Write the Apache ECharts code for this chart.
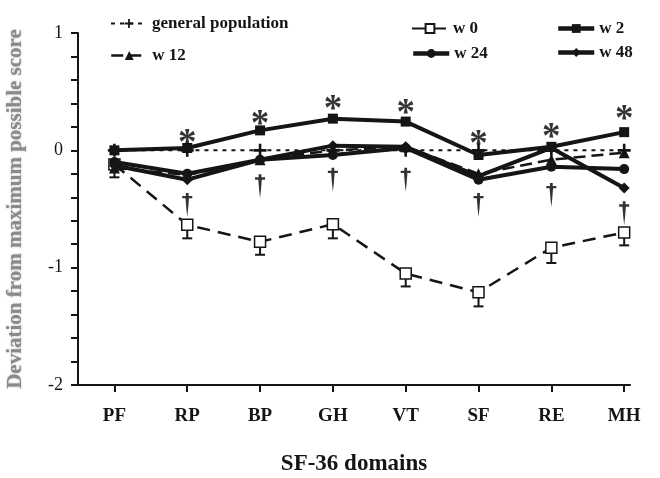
<!DOCTYPE html>
<html><head><meta charset="utf-8">
<script src="https://cdn.jsdelivr.net/npm/echarts@6/dist/echarts.min.js"></script>
<style>html,body{margin:0;padding:0;background:#fff}#c{width:660px;height:478px}</style>
</head><body><div id="c"></div>
<script>
const domains = ['PF','RP','BP','GH','VT','SF','RE','MH'];
const genPop = [0, 0, 0, 0, 0, 0, 0, 0];
const w0 = [-0.12, -0.635, -0.78, -0.63, -1.05, -1.21, -0.83, -0.70];
const w0Lower = [-0.23, -0.75, -0.89, -0.75, -1.16, -1.33, -0.96, -0.81];
const w2 = [0.0, 0.02, 0.17, 0.27, 0.245, -0.04, 0.03, 0.155];
const w12 = [-0.15, -0.21, -0.08, 0.0, 0.03, -0.2, -0.08, -0.02];
const w24 = [-0.1, -0.2, -0.08, -0.04, 0.02, -0.25, -0.14, -0.16];
const w48 = [-0.13, -0.25, -0.08, 0.04, 0.03, -0.22, 0.02, -0.32];
const starY = [null, 0.13, 0.29, 0.415, 0.385, 0.12, 0.175, 0.33];
const daggerY = [null, -0.465, -0.307, -0.25, -0.25, -0.465, -0.38, -0.537];

const serif = 'Liberation Serif';
const ink = '#151515';
const pair = arr => arr.map((v, i) => v === null ? null : [i, v]).filter(d => d);
const plusPath = 'path://M4,0h2v4h4v2h-4v4h-2v-4h-4v-2h4z';
const daggerPath = 'path://M3.9,0H6.1V3H9V5.3H6.4L5.7,16L5,24L4.3,16L3.6,5.3H1V3H3.9Z';

const legTxt = {fontFamily: serif, fontWeight: 'bold', fontSize: 17, color: ink};
function leg(name, left, top, lw) {
  return {data: [{name: name, lineStyle: {width: lw}}], left: left, top: top, itemWidth: 36, itemHeight: 11, itemGap: 5,
    textStyle: legTxt, selectedMode: false, padding: 0};
}

const chart = echarts.init(document.getElementById('c'), null, {renderer: 'canvas'});
chart.setOption({
  animation: false,
  backgroundColor: '#fff',
  legend: [
    leg('general population', 110, 15, 2),
    leg('w 12', 110, 47, 2.5),
    leg('w 0', 411, 20, 2),
    leg('w 24', 411, 45, 4.5),
    leg('w 2', 556, 20, 4.5),
    leg('w 48', 556, 44, 4.5)
  ],
  grid: {left: 78, right: 30, top: 33, bottom: 93, containLabel: false, outerBoundsMode: 'none'},
  xAxis: {
    type: 'value', min: -0.5, max: 7.08,
    splitLine: {show: false},
    axisLine: {show: true, onZero: false, lineStyle: {color: ink, width: 2}},
    axisTick: {show: true, customValues: [0,1,2,3,4,5,6,7], length: 7, lineStyle: {color: ink, width: 2}},
    axisLabel: {customValues: [0,1,2,3,4,5,6,7], formatter: v => domains[Math.round(v)],
      fontFamily: serif, fontWeight: 'bold', fontSize: 19, color: ink, margin: 22},
    name: 'SF-36 domains', nameLocation: 'middle', nameGap: 68,
    nameTextStyle: {fontFamily: serif, fontWeight: 'bold', fontSize: 23, color: ink}
  },
  yAxis: {
    type: 'value', min: -2, max: 1, interval: 0.2,
    splitLine: {show: false},
    axisLine: {show: true, onZero: false, lineStyle: {color: ink, width: 2}},
    axisTick: {show: true, length: 7, lineStyle: {color: ink, width: 2}},
    axisLabel: {formatter: v => Math.abs(v - Math.round(v)) < 1e-6 ? String(Math.round(v)) : '',
      fontFamily: serif, fontSize: 18, color: ink, margin: 15},
    name: 'Deviation from maximum possible score', nameLocation: 'middle', nameGap: 52,
    nameTextStyle: {fontFamily: serif, fontWeight: 'bold', fontSize: 21, color: '#8a8a8a',
      textShadowColor: 'rgba(120,120,120,0.6)', textShadowBlur: 2}
  },
  series: [
    {name: 'general population', type: 'line', data: pair(genPop), symbol: plusPath, symbolSize: 13,
      itemStyle: {color: ink}, lineStyle: {color: ink, width: 2, type: [4, 5]}, z: 2},
    {name: 'w 0', type: 'line', data: pair(w0), symbol: 'rect', symbolSize: 11,
      itemStyle: {color: '#fff', borderColor: ink, borderWidth: 1.5},
      lineStyle: {color: ink, width: 2.5, type: [13, 8]}, z: 3},
    {name: 'w0err', type: 'custom', data: domains.map((d, i) => [i, w0[i], w0Lower[i]]), z: 2,
      renderItem: function (params, api) {
        const p1 = api.coord([api.value(0), api.value(1)]);
        const p2 = api.coord([api.value(0), api.value(2)]);
        return {type: 'group', children: [
          {type: 'line', shape: {x1: p1[0], y1: p1[1], x2: p2[0], y2: p2[1]}, style: {stroke: ink, lineWidth: 2}},
          {type: 'line', shape: {x1: p2[0] - 5, y1: p2[1], x2: p2[0] + 5, y2: p2[1]}, style: {stroke: ink, lineWidth: 2}}
        ]};
      }},
    {name: 'w 12', type: 'line', data: pair(w12), symbol: 'triangle', symbolSize: 11,
      itemStyle: {color: ink}, lineStyle: {color: ink, width: 2.5, type: [12, 6]}, z: 4},
    {name: 'w 24', type: 'line', data: pair(w24), symbol: 'circle', symbolSize: 10,
      itemStyle: {color: ink}, lineStyle: {color: ink, width: 4}, z: 5},
    {name: 'w 48', type: 'line', data: pair(w48), symbol: 'diamond', symbolSize: 11,
      itemStyle: {color: ink}, lineStyle: {color: ink, width: 4}, z: 5},
    {name: 'w 2', type: 'line', data: pair(w2), symbol: 'rect', symbolSize: 10,
      itemStyle: {color: ink}, lineStyle: {color: ink, width: 4}, z: 6},
    {name: 'stars', type: 'scatter', data: pair(starY), symbolSize: 0, silent: true, z: 7,
      itemStyle: {color: '#000'},
      label: {show: true, formatter: '*', position: 'inside', fontFamily: serif, fontWeight: 'bold', fontSize: 37,
        color: '#000', offset: [0, 9]}},
    {name: 'daggers', type: 'scatter', data: pair(daggerY), symbol: daggerPath, symbolSize: [10, 24],
      silent: true, z: 7, itemStyle: {color: '#000'}}
  ]
});
</script></body></html>
